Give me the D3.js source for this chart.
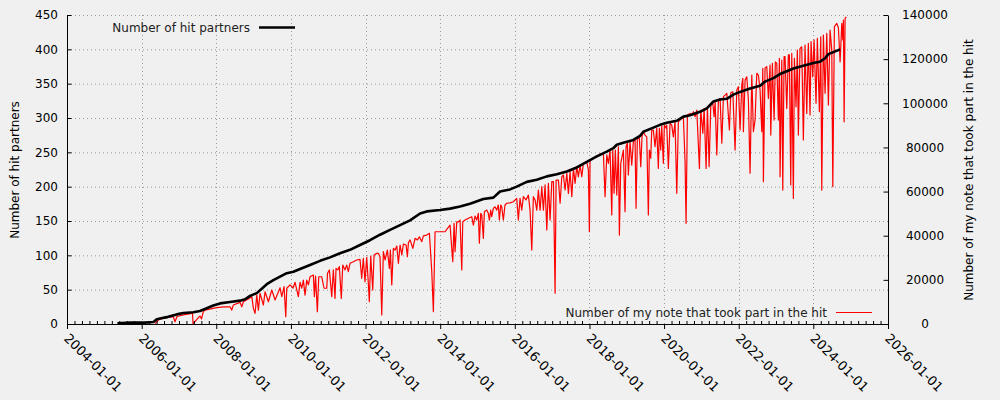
<!DOCTYPE html>
<html>
<head>
<meta charset="utf-8">
<script src="https://cdn.jsdelivr.net/npm/d3@7"></script>
<style>
  html, body { margin: 0; padding: 0; background: #f0f0f0; }
  svg { display: block; font-family: "DejaVu Sans", sans-serif; }
</style>
</head>
<body>
<svg id="chart" width="1000" height="400"></svg>
<script>
// ---------- data ----------
const xStart = "2004-01-01";
const xEnd = "2026-01-01";
const xTickYears = [2004, 2006, 2008, 2010, 2012, 2014, 2016, 2018, 2020, 2022, 2024, 2026];
const leftTicks = [0, 50, 100, 150, 200, 250, 300, 350, 400, 450];
const rightTicks = [0, 20000, 40000, 60000, 80000, 100000, 120000, 140000];
const leftTitle = "Number of hit partners";
const rightTitle = "Number of my note that took part in the hit";
const partnerLabel = "Number of hit partners";
const noteLabel = "Number of my note that took part in the hit";

// Number of hit partners (left axis), dates as decimal years
const partnerYears = [
  2005.348, 2005.688, 2006.090, 2006.313, 2006.404, 2006.492, 2006.672, 2006.806, 2006.940, 2007.117,
  2007.385, 2007.564, 2007.744, 2007.921, 2008.100, 2008.368, 2008.636, 2008.770, 2008.904, 2009.084,
  2009.352, 2009.529, 2009.708, 2009.888, 2010.065, 2010.244, 2010.512, 2010.780, 2011.048, 2011.316,
  2011.584, 2011.852, 2012.120, 2012.388, 2012.656, 2012.924, 2013.192, 2013.460, 2013.640, 2013.996,
  2014.264, 2014.532, 2014.800, 2015.157, 2015.425, 2015.604, 2015.872, 2016.052, 2016.320, 2016.588,
  2016.856, 2017.124, 2017.392, 2017.660, 2017.928, 2018.196, 2018.464, 2018.641, 2018.732, 2018.909,
  2019.177, 2019.356, 2019.445, 2019.713, 2019.892, 2020.072, 2020.340, 2020.517, 2020.696, 2020.964,
  2021.144, 2021.321, 2021.500, 2021.680, 2021.857, 2022.036, 2022.304, 2022.572, 2022.706, 2022.929,
  2023.108, 2023.288, 2023.465, 2023.733, 2024.001, 2024.180, 2024.314, 2024.403, 2024.538, 2024.716
];
const partnerCounts = [
  1, 2, 2, 3, 7, 8, 10, 12, 14, 16,
  17, 19, 23, 27, 30, 32, 34, 36, 41, 45,
  58, 64, 69, 74, 76, 80, 86, 92, 97, 103,
  108, 115, 122, 130, 137, 144, 151, 161, 164, 166,
  168, 171, 175, 182, 184, 193, 196, 200, 207, 210,
  215, 218, 222, 228, 236, 244, 251, 256, 261, 264,
  268, 274, 280, 286, 290, 293, 296, 302, 304, 309,
  314, 324, 327, 328, 334, 338, 343, 347, 353, 358,
  364, 368, 372, 376, 380, 382, 387, 393, 396, 400
];

// Number of my note that took part in the hit (right axis)
const noteYears = [
  2006.358, 2006.447, 2006.581, 2006.849, 2006.894, 2006.948, 2007.117, 2007.342, 2007.363, 2007.377,
  2007.511, 2007.564, 2007.605, 2007.653, 2007.698, 2008.012, 2008.189, 2008.368, 2008.414, 2008.457,
  2008.636, 2008.682, 2008.725, 2008.859, 2008.950, 2008.993, 2009.038, 2009.084, 2009.127, 2009.172,
  2009.261, 2009.306, 2009.395, 2009.486, 2009.574, 2009.708, 2009.754, 2009.816, 2009.861, 2009.888,
  2009.976, 2010.057, 2010.110, 2010.199, 2010.244, 2010.290, 2010.333, 2010.378, 2010.424, 2010.467,
  2010.512, 2010.601, 2010.628, 2010.660, 2010.708, 2010.746, 2010.826, 2010.888, 2010.960, 2010.981,
  2011.030, 2011.094, 2011.137, 2011.182, 2011.209, 2011.255, 2011.298, 2011.351, 2011.389, 2011.450,
  2011.496, 2011.539, 2011.584, 2011.673, 2011.764, 2011.852, 2011.898, 2011.941, 2011.986, 2012.032,
  2012.075, 2012.102, 2012.139, 2012.193, 2012.228, 2012.300, 2012.343, 2012.388, 2012.434, 2012.477,
  2012.522, 2012.584, 2012.638, 2012.664, 2012.702, 2012.745, 2012.790, 2012.836, 2012.879, 2012.924,
  2012.970, 2013.013, 2013.085, 2013.120, 2013.147, 2013.192, 2013.265, 2013.326, 2013.388, 2013.442,
  2013.506, 2013.549, 2013.640, 2013.710, 2013.774, 2013.817, 2013.862, 2013.996, 2014.130, 2014.176,
  2014.264, 2014.337, 2014.372, 2014.398, 2014.444, 2014.487, 2014.532, 2014.578, 2014.605, 2014.666,
  2014.755, 2014.846, 2014.889, 2014.934, 2014.980, 2015.023, 2015.050, 2015.087, 2015.114, 2015.157,
  2015.184, 2015.248, 2015.291, 2015.318, 2015.355, 2015.382, 2015.425, 2015.470, 2015.516, 2015.559,
  2015.586, 2015.623, 2015.650, 2015.693, 2015.738, 2015.784, 2015.872, 2015.961, 2016.052, 2016.095,
  2016.140, 2016.186, 2016.229, 2016.301, 2016.363, 2016.408, 2016.454, 2016.497, 2016.542, 2016.588,
  2016.631, 2016.676, 2016.722, 2016.765, 2016.810, 2016.856, 2016.899, 2016.944, 2016.990, 2017.033,
  2017.078, 2017.105, 2017.167, 2017.212, 2017.258, 2017.301, 2017.346, 2017.392, 2017.435, 2017.480,
  2017.526, 2017.569, 2017.614, 2017.660, 2017.703, 2017.748, 2017.794, 2017.837, 2017.928, 2017.971,
  2017.998, 2018.016, 2018.105, 2018.196, 2018.284, 2018.373, 2018.418, 2018.464, 2018.507, 2018.552,
  2018.598, 2018.625, 2018.660, 2018.694, 2018.732, 2018.775, 2018.802, 2018.839, 2018.874, 2018.909,
  2018.954, 2018.981, 2019.016, 2019.043, 2019.088, 2019.134, 2019.177, 2019.222, 2019.249, 2019.284,
  2019.338, 2019.375, 2019.410, 2019.445, 2019.490, 2019.536, 2019.579, 2019.606, 2019.643, 2019.670,
  2019.713, 2019.758, 2019.804, 2019.847, 2019.874, 2019.911, 2019.938, 2019.981, 2020.008, 2020.053,
  2020.072, 2020.115, 2020.160, 2020.206, 2020.249, 2020.294, 2020.340, 2020.383, 2020.428, 2020.474,
  2020.517, 2020.562, 2020.589, 2020.624, 2020.696, 2020.742, 2020.785, 2020.830, 2020.876, 2020.946,
  2020.983, 2021.037, 2021.072, 2021.125, 2021.160, 2021.206, 2021.251, 2021.305, 2021.340, 2021.367,
  2021.412, 2021.455, 2021.500, 2021.546, 2021.589, 2021.634, 2021.680, 2021.750, 2021.787, 2021.841,
  2021.902, 2021.948, 2021.991, 2022.036, 2022.082, 2022.109, 2022.125, 2022.170, 2022.216, 2022.259,
  2022.304, 2022.350, 2022.393, 2022.438, 2022.484, 2022.527, 2022.572, 2022.618, 2022.645, 2022.661,
  2022.706, 2022.752, 2022.795, 2022.840, 2022.859, 2022.902, 2022.948, 2022.982, 2023.020, 2023.063,
  2023.090, 2023.108, 2023.154, 2023.181, 2023.216, 2023.242, 2023.288, 2023.331, 2023.358, 2023.395,
  2023.422, 2023.465, 2023.492, 2023.537, 2023.572, 2023.599, 2023.644, 2023.690, 2023.733, 2023.778,
  2023.824, 2023.867, 2023.912, 2023.939, 2023.985, 2024.020, 2024.073, 2024.108, 2024.162, 2024.199,
  2024.226, 2024.269, 2024.314, 2024.360, 2024.403, 2024.448, 2024.494, 2024.521, 2024.564, 2024.628,
  2024.671, 2024.716, 2024.762, 2024.789, 2024.805, 2024.824, 2024.850, 2024.885
];
const noteCounts = [
  200, 1800, 2600, 3300, 1000, 3400, 4100, 4800, 4800, 200,
  2700, 3600, 2300, 5600, 6300, 7400, 7800, 7800, 6300, 8600,
  9800, 7800, 10100, 11300, 12400, 7100, 4800, 13100, 6300, 13900,
  8600, 14600, 10100, 15400, 10900, 16400, 12400, 16900, 3300, 16200,
  17700, 16300, 18900, 12400, 18900, 16200, 19900, 13100, 19900, 17700,
  21400, 22200, 12400, 21700, 5600, 21400, 21400, 16200, 16200, 23000,
  24500, 12400, 24500, 11600, 25200, 24500, 26000, 11600, 26700, 24500,
  26700, 23700, 27500, 28200, 29000, 29300, 20700, 29800, 19200, 30200,
  18400, 10100, 30800, 15400, 31300, 32000, 32000, 30500, 4100, 32800,
  29000, 33500, 25200, 33500, 17700, 34300, 33500, 35300, 27500, 35800,
  31300, 36200, 35800, 30500, 36800, 38100, 34300, 38800, 38100, 39500,
  37300, 39900, 40300, 41100, 23700, 5600, 41800, 41800, 41800, 42900,
  44800, 28200, 45600, 32800, 46300, 46300, 47100, 24500, 46300, 47100,
  47900, 48600, 44800, 48900, 47100, 50100, 36600, 50100, 49400, 38800,
  50900, 51600, 50100, 47100, 51600, 48600, 52400, 53100, 51600, 53900,
  47100, 53900, 53100, 47100, 53900, 54700, 54900, 55400, 56900, 47100,
  56900, 51600, 57700, 56200, 58400, 51600, 33500, 57700, 56200, 51600,
  60700, 51600, 62200, 51600, 63000, 42600, 63700, 47100, 64500, 64500,
  13900, 65200, 65200, 54700, 66700, 67500, 60700, 68300, 59200, 69000,
  57700, 70500, 63700, 71300, 66700, 72000, 66700, 72800, 73500, 69800,
  41800, 74300, 75100, 75800, 77000, 77300, 57700, 76600, 72800, 78800,
  49400, 78800, 59200, 78800, 58400, 80300, 40300, 72800, 75800, 78800,
  50900, 80300, 81900, 67500, 82600, 72000, 82600, 83400, 52400, 84100,
  84100, 71300, 85200, 87100, 85600, 84800, 49400, 78800, 75100, 87900,
  87900, 80300, 88700, 70500, 88700, 78800, 89700, 72800, 90100, 88800,
  90100, 70500, 90900, 90100, 84800, 91600, 59200, 91600, 92400, 93200,
  93900, 73500, 45600, 94700, 95400, 94700, 96200, 93900, 96900, 70500,
  96900, 86400, 97700, 70500, 98400, 71300, 99200, 100000, 93900, 100700,
  76600, 101500, 102200, 81900, 103000, 103700, 104500, 87900, 104800, 105200,
  78800, 106000, 107500, 87900, 108300, 111300, 87100, 110500, 112000, 101500,
  68300, 112800, 87100, 92400, 113600, 112800, 106000, 87100, 115800, 64500,
  116000, 116600, 102200, 117300, 85600, 118100, 92400, 118800, 118100, 92400,
  120400, 66700, 119600, 60700, 121100, 121100, 97700, 121900, 121900, 63000,
  122600, 56900, 120400, 98400, 124100, 85600, 124900, 125600, 83400, 126400,
  95400, 127200, 94700, 127900, 112000, 128700, 100000, 129400, 96200, 130100,
  60700, 130900, 104500, 131700, 99200, 133200, 124100, 62200, 134700, 136200,
  134100, 118800, 136200, 128700, 137700, 91600, 138600, 139100
];

// ---------- helpers ----------
function decYear(y) {
  const yr = Math.floor(y);
  const s = Date.UTC(yr, 0, 1), e = Date.UTC(yr + 1, 0, 1);
  return new Date(s + (y - yr) * (e - s));
}
const parse = d3.utcParse("%Y-%m-%d");
const fmt = d3.utcFormat("%Y-%m-%d");

// ---------- layout ----------
const L = 67, R = 888, T = 15, B = 324;
const svg = d3.select("#chart");
svg.append("rect").attr("width", 1000).attr("height", 400).attr("fill", "#f0f0f0");

const x = d3.scaleUtc().domain([parse(xStart), parse(xEnd)]).range([L, R]);
const yL = d3.scaleLinear().domain([0, 450]).range([B, T]);
const yR = d3.scaleLinear().domain([0, 140000]).range([B, T]);
const xTickDates = xTickYears.map(y => new Date(Date.UTC(y, 0, 1)));

// grid
const grid = svg.append("g");
grid.selectAll("line.h").data(leftTicks.filter(d => d > 0)).join("line")
  .attr("x1", L).attr("x2", R)
  .attr("y1", d => yL(d) + 0.5).attr("y2", d => yL(d) + 0.5)
  .attr("stroke", "#9a9a9a").attr("stroke-width", 1).attr("stroke-dasharray", "1,3");
grid.selectAll("line.v").data(xTickDates.slice(1, -1)).join("line")
  .attr("x1", d => Math.round(x(d)) + 0.5).attr("x2", d => Math.round(x(d)) + 0.5)
  .attr("y1", T).attr("y2", B)
  .attr("stroke", "#9a9a9a").attr("stroke-width", 1).attr("stroke-dasharray", "1,3");

// series
const noteData = noteYears.map((y, i) => ({ date: decYear(y), value: noteCounts[i] }));
const partnerData = partnerYears.map((y, i) => ({ date: decYear(y), value: partnerCounts[i] }));

svg.append("path").datum(noteData)
  .attr("fill", "none").attr("stroke", "#ff0000").attr("stroke-width", 1.2)
  .attr("stroke-linejoin", "round")
  .attr("d", d3.line().x(d => x(d.date)).y(d => yR(d.value)));

svg.append("path").datum(partnerData)
  .attr("fill", "none").attr("stroke", "#000").attr("stroke-width", 2.6)
  .attr("stroke-linejoin", "round")
  .attr("d", d3.line().x(d => x(d.date)).y(d => yL(d.value)));

// axes
const axisStyle = g => {
  g.selectAll(".domain").attr("stroke", "#000").attr("stroke-width", 1);
  g.selectAll(".tick line").attr("stroke", "#000");
  g.selectAll("text").attr("font-family", "DejaVu Sans, sans-serif").attr("font-size", 12).attr("fill", "#000");
};

const gL = svg.append("g").attr("transform", `translate(${L},0)`)
  .call(d3.axisLeft(yL).tickValues(leftTicks).tickSizeInner(-4.5).tickSizeOuter(0).tickPadding(9))
  .call(axisStyle);

const gR = svg.append("g").attr("transform", `translate(${R},0)`)
  .call(d3.axisRight(yR).tickValues(rightTicks).tickSizeInner(-4.5).tickSizeOuter(0).tickFormat(d3.format("d")))
  .call(axisStyle);
gR.selectAll(".tick text").attr("x", 37).attr("text-anchor", "middle");

// minor x ticks
const minorDates = [];
for (let y = 2004; y < 2026; y += 2) {
  for (let k = 1; k < 10; k++) minorDates.push(decYear(y + k * 0.2));
}
svg.append("g").attr("transform", `translate(0,${B})`)
  .call(d3.axisBottom(x).tickValues(minorDates).tickSizeInner(-3).tickSizeOuter(0).tickFormat(""))
  .call(g => g.select(".domain").remove())
  .call(axisStyle);

const gB = svg.append("g").attr("transform", `translate(0,${B})`)
  .call(d3.axisBottom(x).tickValues(xTickDates).tickSizeInner(5).tickSizeOuter(0).tickFormat(fmt))
  .call(axisStyle);
gB.selectAll(".tick text")
  .attr("font-size", 13)
  .attr("text-anchor", "start")
  .attr("y", 0).attr("dy", "0.35em")
  .attr("transform", "translate(-1,12) rotate(45)");

// axis titles
svg.append("text")
  .attr("transform", `translate(19,170) rotate(-90)`)
  .attr("text-anchor", "middle").attr("font-size", 12).attr("fill", "#000")
  .text(leftTitle);
svg.append("text")
  .attr("transform", `translate(973,170) rotate(-90)`)
  .attr("text-anchor", "middle").attr("font-size", 12).attr("fill", "#000")
  .text(rightTitle);

// legends
svg.append("text").attr("x", 250).attr("y", 32).attr("text-anchor", "end")
  .attr("font-size", 12).attr("fill", "#222").text(partnerLabel);
svg.append("line").attr("x1", 259).attr("x2", 295).attr("y1", 27.5).attr("y2", 27.5)
  .attr("stroke", "#000").attr("stroke-width", 2.6);

svg.append("text").attr("x", 827).attr("y", 317).attr("text-anchor", "end")
  .attr("font-size", 12).attr("fill", "#222").text(noteLabel);
svg.append("line").attr("x1", 836).attr("x2", 872).attr("y1", 312.5).attr("y2", 312.5)
  .attr("stroke", "#ff0000").attr("stroke-width", 1.2);
</script>
</body>
</html>
